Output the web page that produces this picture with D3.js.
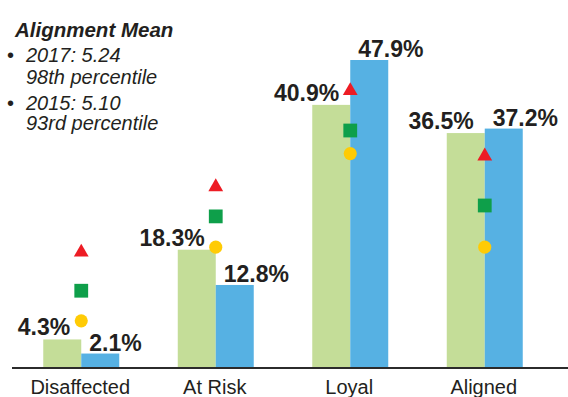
<!DOCTYPE html>
<html>
<head>
<meta charset="utf-8">
<script src="https://cdn.jsdelivr.net/npm/d3@7"></script>
<style>
  html, body { margin: 0; padding: 0; background: #fff; }
  svg { display: block; font-family: "Liberation Sans", Arial, sans-serif; }
</style>
</head>
<body>
<svg id="chart" width="568" height="397"></svg>
<script>
// ---- data ----
const categories = ["Disaffected", "At Risk", "Loyal", "Aligned"];
const years = ["2015", "2017"];
const values2015 = [4.3, 18.3, 40.9, 36.5];
const values2017 = [2.1, 12.8, 47.9, 37.2];
const valueLabels2015 = ["4.3%", "18.3%", "40.9%", "36.5%"];
const valueLabels2017 = ["2.1%", "12.8%", "47.9%", "37.2%"];
// benchmark markers (same % scale)
const triangleValues = [17.9, 28.1, 43.1, 32.9];
const squareValues = [11.9, 23.5, 36.9, 25.2];
const circleValues = [7.2, 18.7, 33.3, 18.7];
const noteTitle = "Alignment Mean";
const noteLines = [
  ["2017: 5.24", "98th percentile"],
  ["2015: 5.10", "93rd percentile"]
];

// ---- styles ----
const colors = { "2015": "#c4dd98", "2017": "#56b1e3" };
const textColor = "#231f20";

const svg = d3.select("#chart");

const x = d3.scaleBand().domain(categories).range([14, 552])
  .paddingInner(0.435).paddingOuter(0.2175);
const xs = d3.scaleBand().domain(years).range([0, x.bandwidth()]);
const y = d3.scaleLinear().domain([0, 50]).range([367, 46.55]);

const rows = categories.map((c, i) => ({
  cat: c,
  v2015: values2015[i], v2017: values2017[i],
  l2015: valueLabels2015[i], l2017: valueLabels2017[i],
  tri: triangleValues[i], sq: squareValues[i], circ: circleValues[i]
}));

// bars
const g = svg.append("g");
rows.forEach(r => {
  years.forEach(yr => {
    const v = r["v" + yr];
    g.append("rect")
      .attr("x", x(r.cat) + xs(yr))
      .attr("y", y(v))
      .attr("width", xs.bandwidth())
      .attr("height", y(0) - y(v))
      .attr("fill", colors[yr]);
  });
});

// axis line
const xAxis = d3.axisBottom(x).tickSize(0).tickPadding(0).tickFormat("");
const axisG = svg.append("g").attr("transform", "translate(0,368)").call(xAxis);
axisG.select(".domain").attr("d", "M12,0H568").attr("stroke", "#2b2b2b").attr("stroke-width", 2);
axisG.selectAll(".tick").remove();

// category labels
svg.append("g").selectAll("text").data(categories).join("text")
  .attr("x", d => x(d) + x.bandwidth() / 2 - 1)
  .attr("y", 394)
  .attr("text-anchor", "middle")
  .attr("font-size", 20)
  .attr("fill", textColor)
  .text(d => d);

// value labels
rows.forEach(r => {
  g.append("text")
    .attr("x", x(r.cat) + xs("2015") + xs.bandwidth() - 11)
    .attr("y", y(r.v2015) - 4)
    .attr("text-anchor", "end")
    .attr("font-size", 23).attr("font-weight", "bold")
    .attr("fill", textColor)
    .text(r.l2015);
  g.append("text")
    .attr("x", x(r.cat) + xs("2017") + 8)
    .attr("y", y(r.v2017) - 3)
    .attr("text-anchor", "start")
    .attr("font-size", 23).attr("font-weight", "bold")
    .attr("fill", textColor)
    .text(r.l2017);
});

// markers
const cx = d => x(d.cat) + x.bandwidth() / 2;
const mk = svg.append("g");
mk.selectAll(".tri").data(rows).join("path").attr("class", "tri")
  .attr("d", d3.symbol().type(d3.symbolTriangle).size(95))
  .attr("transform", d => `translate(${cx(d)},${y(d.tri)})`)
  .attr("fill", "#ed1c24");
mk.selectAll(".sq").data(rows).join("path").attr("class", "sq")
  .attr("d", d3.symbol().type(d3.symbolSquare).size(190))
  .attr("transform", d => `translate(${cx(d)},${y(d.sq)})`)
  .attr("fill", "#0e9f4a");
mk.selectAll(".circ").data(rows).join("path").attr("class", "circ")
  .attr("d", d3.symbol().type(d3.symbolCircle).size(135))
  .attr("transform", d => `translate(${cx(d)},${y(d.circ)})`)
  .attr("fill", "#ffcb05");

// note block
const note = svg.append("g").attr("fill", textColor);
note.append("text").attr("x", 15).attr("y", 37)
  .attr("font-size", 20.5).attr("font-weight", "bold").attr("font-style", "italic")
  .text(noteTitle);
const baselines = [[62, 83.5], [110, 130]];
noteLines.forEach((lines, i) => {
  note.append("text").attr("x", 7).attr("y", baselines[i][0])
    .attr("font-size", 20).text("\u2022");
  lines.forEach((t, j) => {
    note.append("text").attr("x", 26).attr("y", baselines[i][j])
      .attr("font-size", 20).attr("font-style", "italic").text(t);
  });
});
</script>
</body>
</html>
